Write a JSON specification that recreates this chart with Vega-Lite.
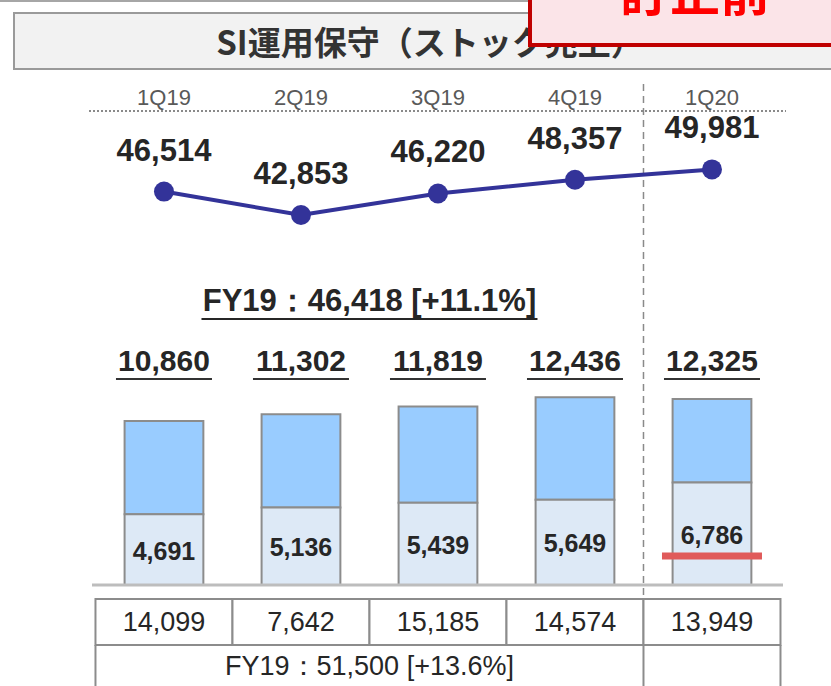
{
  "$schema": "https://vega.github.io/schema/vega-lite/v6.json",
  "width": 831,
  "height": 686,
  "padding": 0,
  "autosize": "none",
  "background": "white",
  "config": {"view": {"stroke": null}, "text": {"font": "Liberation Sans"}},
  "data": {"values": [
    {"quarter": "1Q19", "sales": 46514, "total": 10860, "lower": 4691, "orders": 14099},
    {"quarter": "2Q19", "sales": 42853, "total": 11302, "lower": 5136, "orders": 7642},
    {"quarter": "3Q19", "sales": 46220, "total": 11819, "lower": 5439, "orders": 15185},
    {"quarter": "4Q19", "sales": 48357, "total": 12436, "lower": 5649, "orders": 14574},
    {"quarter": "1Q20", "sales": 49981, "total": 12325, "lower": 6786, "orders": 13949}
  ]},
  "resolve": {"scale": {"y": "independent"}},
  "layer": [
    {
      "data": {"values": [{}]},
      "mark": {"type": "rule", "color": "#a6a6a6", "strokeWidth": 2},
      "encoding": {"x": {"value": 0}, "x2": {"value": 530}, "y": {"value": 1}}
    },
    {
      "data": {"values": [{}]},
      "mark": {"type": "rect", "fill": "#f2f2f2", "stroke": "#9a9a9a", "strokeWidth": 2},
      "encoding": {"x": {"value": 14}, "x2": {"value": 845}, "y": {"value": 13}, "y2": {"value": 69}}
    },
    {
      "data": {"values": [{}]},
      "mark": {"type": "text", "text": "SI運用保守（ストック売上）", "font": "Noto Sans CJK JP", "fontWeight": "bold", "fontSize": 33, "color": "#333333", "align": "center", "baseline": "middle"},
      "encoding": {"x": {"value": 430}, "y": {"value": 45}}
    },
    {
      "data": {"values": [{}]},
      "mark": {"type": "rect", "fill": "#fbe4e8", "stroke": "#c00000", "strokeWidth": 4},
      "encoding": {"x": {"value": 530}, "x2": {"value": 860}, "y": {"value": -20}, "y2": {"value": 45}}
    },
    {
      "data": {"values": [{}]},
      "mark": {"type": "text", "text": "訂正前", "font": "Noto Sans CJK JP", "fontWeight": "bold", "fontSize": 50, "color": "#ff0000", "align": "center", "baseline": "alphabetic"},
      "encoding": {"x": {"value": 695}, "y": {"value": 11}}
    },
    {
      "mark": {"type": "text", "fontSize": 22, "color": "#595959", "baseline": "middle"},
      "encoding": {
        "x": {"field": "quarter", "type": "nominal", "bandPosition": 0.5, "scale": {"type": "band", "domain": ["1Q19", "2Q19", "3Q19", "4Q19", "1Q20"], "paddingInner": 0, "paddingOuter": 0.5328, "align": 0.654}, "axis": null},
        "y": {"value": 98},
        "text": {"field": "quarter"}
      }
    },
    {
      "data": {"values": [{}]},
      "mark": {"type": "rule", "color": "#8a8a8a", "strokeWidth": 2, "strokeDash": [2, 2]},
      "encoding": {"x": {"value": 89}, "x2": {"value": 786}, "y": {"value": 111}}
    },
    {
      "transform": [{"filter": "datum.quarter == '1Q20'"}],
      "mark": {"type": "rule", "color": "#8a8a8a", "strokeWidth": 1.5, "strokeDash": [7, 5]},
      "encoding": {
        "x": {"field": "quarter", "type": "nominal", "bandPosition": 0, "scale": {"type": "band", "domain": ["1Q19", "2Q19", "3Q19", "4Q19", "1Q20"], "paddingInner": 0, "paddingOuter": 0.5328, "align": 0.654}, "axis": null},
        "y": {"value": 84},
        "y2": {"value": 598}
      }
    },
    {
      "mark": {"type": "line", "color": "#333399", "strokeWidth": 4},
      "encoding": {
        "x": {"field": "quarter", "type": "nominal", "bandPosition": 0.5, "scale": {"type": "band", "domain": ["1Q19", "2Q19", "3Q19", "4Q19", "1Q20"], "paddingInner": 0, "paddingOuter": 0.5328, "align": 0.654}, "axis": null},
        "y": {"field": "sales", "type": "quantitative", "scale": {"domain": [-30741, 76447], "zero": false, "nice": false}, "axis": null}
      }
    },
    {
      "mark": {"type": "circle", "color": "#333399", "size": 400, "opacity": 1},
      "encoding": {
        "x": {"field": "quarter", "type": "nominal", "bandPosition": 0.5, "scale": {"type": "band", "domain": ["1Q19", "2Q19", "3Q19", "4Q19", "1Q20"], "paddingInner": 0, "paddingOuter": 0.5328, "align": 0.654}, "axis": null},
        "y": {"field": "sales", "type": "quantitative", "scale": {"domain": [-30741, 76447], "zero": false, "nice": false}, "axis": null}
      }
    },
    {
      "mark": {"type": "text", "fontSize": 31, "fontWeight": "bold", "color": "#262626", "baseline": "middle", "dy": -40},
      "encoding": {
        "x": {"field": "quarter", "type": "nominal", "bandPosition": 0.5, "scale": {"type": "band", "domain": ["1Q19", "2Q19", "3Q19", "4Q19", "1Q20"], "paddingInner": 0, "paddingOuter": 0.5328, "align": 0.654}, "axis": null},
        "y": {"field": "sales", "type": "quantitative", "scale": {"domain": [-30741, 76447], "zero": false, "nice": false}, "axis": null},
        "text": {"field": "sales", "type": "quantitative", "format": ",d"}
      }
    },
    {
      "data": {"values": [{}]},
      "mark": {"type": "text", "text": "FY19：46,418 [+11.1%]", "fontSize": 31, "fontWeight": "bold", "color": "#262626", "baseline": "middle"},
      "encoding": {
        "x": {"datum": "2Q19", "type": "nominal", "bandPosition": 1, "scale": {"type": "band", "domain": ["1Q19", "2Q19", "3Q19", "4Q19", "1Q20"], "paddingInner": 0, "paddingOuter": 0.5328, "align": 0.654}, "axis": null},
        "y": {"value": 302}
      }
    },
    {
      "data": {"values": [{}]},
      "mark": {"type": "tick", "orient": "horizontal", "size": 336, "thickness": 2, "color": "#262626", "opacity": 1, "xOffset": 68.5},
      "encoding": {
        "x": {"datum": "2Q19", "type": "nominal", "scale": {"type": "band", "domain": ["1Q19", "2Q19", "3Q19", "4Q19", "1Q20"], "paddingInner": 0, "paddingOuter": 0.5328, "align": 0.654}, "axis": null},
        "y": {"value": 319}
      }
    },
    {
      "mark": {"type": "text", "fontSize": 30, "fontWeight": "bold", "color": "#262626", "baseline": "middle"},
      "encoding": {
        "x": {"field": "quarter", "type": "nominal", "bandPosition": 0.5, "scale": {"type": "band", "domain": ["1Q19", "2Q19", "3Q19", "4Q19", "1Q20"], "paddingInner": 0, "paddingOuter": 0.5328, "align": 0.654}, "axis": null},
        "y": {"value": 362},
        "text": {"field": "total", "type": "quantitative", "format": ",d"}
      }
    },
    {
      "mark": {"type": "tick", "orient": "horizontal", "size": 96, "thickness": 2, "color": "#333333", "opacity": 1},
      "encoding": {
        "x": {"field": "quarter", "type": "nominal", "bandPosition": 0.5, "scale": {"type": "band", "domain": ["1Q19", "2Q19", "3Q19", "4Q19", "1Q20"], "paddingInner": 0, "paddingOuter": 0.5328, "align": 0.654}, "axis": null},
        "y": {"value": 379}
      }
    },
    {
      "mark": {"type": "bar", "fill": "#99ccff", "stroke": "#8c8c8c", "strokeWidth": 2, "width": {"band": 0.575}},
      "encoding": {
        "x": {"field": "quarter", "type": "nominal", "scale": {"type": "band", "domain": ["1Q19", "2Q19", "3Q19", "4Q19", "1Q20"], "paddingInner": 0, "paddingOuter": 0.5328, "align": 0.654}, "axis": null},
        "y": {"field": "total", "type": "quantitative", "scale": {"domain": [-6689, 38741], "zero": false, "nice": false}, "axis": null},
        "y2": {"field": "lower"}
      }
    },
    {
      "mark": {"type": "bar", "fill": "#dde9f6", "stroke": "#8c8c8c", "strokeWidth": 2, "width": {"band": 0.575}},
      "encoding": {
        "x": {"field": "quarter", "type": "nominal", "scale": {"type": "band", "domain": ["1Q19", "2Q19", "3Q19", "4Q19", "1Q20"], "paddingInner": 0, "paddingOuter": 0.5328, "align": 0.654}, "axis": null},
        "y": {"field": "lower", "type": "quantitative", "scale": {"domain": [-6689, 38741], "zero": false, "nice": false}, "axis": null},
        "y2": {"datum": 0}
      }
    },
    {
      "mark": {"type": "text", "fontSize": 25, "fontWeight": "bold", "color": "#262626", "baseline": "middle", "dy": 2},
      "encoding": {
        "x": {"field": "quarter", "type": "nominal", "bandPosition": 0.5, "scale": {"type": "band", "domain": ["1Q19", "2Q19", "3Q19", "4Q19", "1Q20"], "paddingInner": 0, "paddingOuter": 0.5328, "align": 0.654}, "axis": null},
        "y": {"field": "lower", "type": "quantitative", "scale": {"domain": [-13378, 77482], "zero": false, "nice": false}, "axis": null},
        "text": {"field": "lower", "type": "quantitative", "format": ",d"}
      }
    },
    {
      "transform": [{"filter": "datum.quarter == '1Q20'"}],
      "mark": {"type": "tick", "orient": "horizontal", "size": 100, "thickness": 7, "color": "#e05a5a", "opacity": 1},
      "encoding": {
        "x": {"field": "quarter", "type": "nominal", "bandPosition": 0.5, "scale": {"type": "band", "domain": ["1Q19", "2Q19", "3Q19", "4Q19", "1Q20"], "paddingInner": 0, "paddingOuter": 0.5328, "align": 0.654}, "axis": null},
        "y": {"value": 556}
      }
    },
    {
      "data": {"values": [{}]},
      "mark": {"type": "rule", "color": "#bdbdbd", "strokeWidth": 3},
      "encoding": {
        "x": {"value": 92},
        "x2": {"value": 783},
        "y": {"datum": 0, "type": "quantitative", "scale": {"domain": [-6689, 38741], "zero": false, "nice": false}, "axis": null}
      }
    },
    {
      "mark": {"type": "bar", "fill": "white", "stroke": "#8c8c8c", "strokeWidth": 2, "width": {"band": 1}},
      "encoding": {
        "x": {"field": "quarter", "type": "nominal", "scale": {"type": "band", "domain": ["1Q19", "2Q19", "3Q19", "4Q19", "1Q20"], "paddingInner": 0, "paddingOuter": 0.5328, "align": 0.654}, "axis": null},
        "y": {"value": 599},
        "y2": {"value": 645}
      }
    },
    {
      "mark": {"type": "text", "fontSize": 27, "color": "#262626", "baseline": "middle"},
      "encoding": {
        "x": {"field": "quarter", "type": "nominal", "bandPosition": 0.5, "scale": {"type": "band", "domain": ["1Q19", "2Q19", "3Q19", "4Q19", "1Q20"], "paddingInner": 0, "paddingOuter": 0.5328, "align": 0.654}, "axis": null},
        "y": {"value": 623},
        "text": {"field": "orders", "type": "quantitative", "format": ",d"}
      }
    },
    {
      "transform": [{"filter": "datum.quarter == '1Q19' || datum.quarter == '1Q20'"}],
      "mark": {"type": "rule", "color": "#8c8c8c", "strokeWidth": 2},
      "encoding": {
        "x": {"field": "quarter", "type": "nominal", "bandPosition": 0, "scale": {"type": "band", "domain": ["1Q19", "2Q19", "3Q19", "4Q19", "1Q20"], "paddingInner": 0, "paddingOuter": 0.5328, "align": 0.654}, "axis": null},
        "y": {"value": 645},
        "y2": {"value": 700}
      }
    },
    {
      "transform": [{"filter": "datum.quarter == '1Q20'"}],
      "mark": {"type": "rule", "color": "#8c8c8c", "strokeWidth": 2},
      "encoding": {
        "x": {"field": "quarter", "type": "nominal", "bandPosition": 1, "scale": {"type": "band", "domain": ["1Q19", "2Q19", "3Q19", "4Q19", "1Q20"], "paddingInner": 0, "paddingOuter": 0.5328, "align": 0.654}, "axis": null},
        "y": {"value": 645},
        "y2": {"value": 700}
      }
    },
    {
      "data": {"values": [{}]},
      "mark": {"type": "text", "text": "FY19：51,500 [+13.6%]", "fontSize": 27, "color": "#262626", "baseline": "middle"},
      "encoding": {
        "x": {"datum": "2Q19", "type": "nominal", "bandPosition": 1, "scale": {"type": "band", "domain": ["1Q19", "2Q19", "3Q19", "4Q19", "1Q20"], "paddingInner": 0, "paddingOuter": 0.5328, "align": 0.654}, "axis": null},
        "y": {"value": 667}
      }
    }
  ]
}
